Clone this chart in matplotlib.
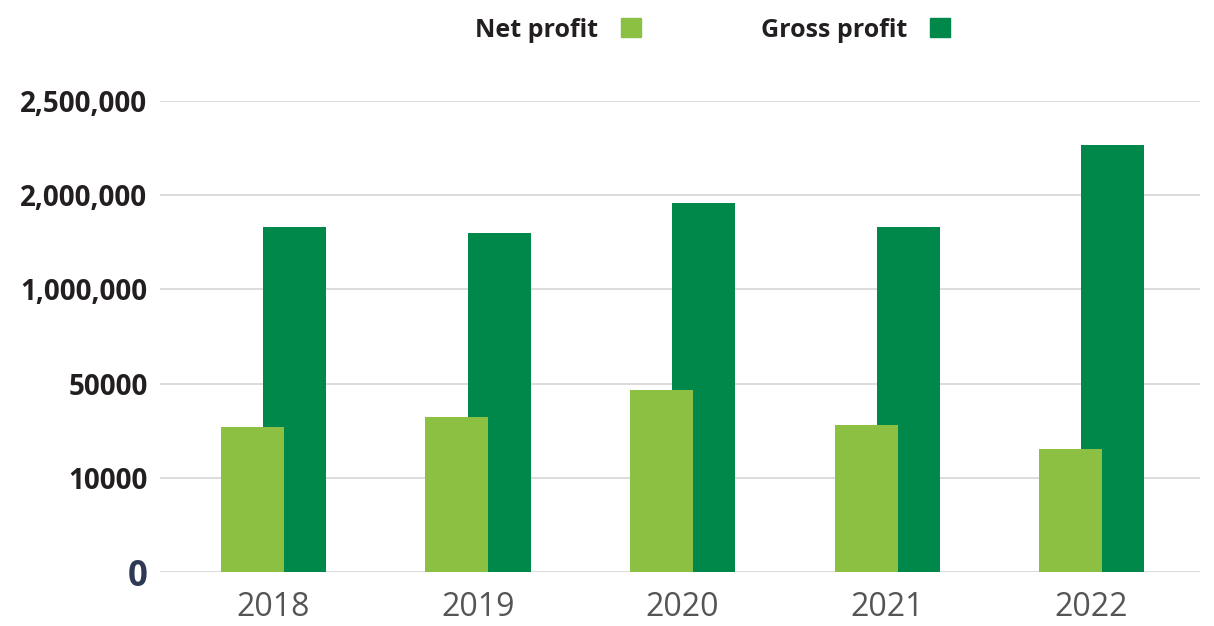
import numpy as np
import matplotlib.pyplot as plt
from matplotlib.patches import Patch

# data (in its own odd non-linear scale)
years = ['2018', '2019', '2020', '2021', '2022']
net_profit = [31600, 36000, 47200, 32400, 22400]
gross_profit = [1660000, 1600000, 1920000, 1660000, 2265000]

# the y axis has evenly spaced gridlines with uneven values
tick_vals = [0, 10000, 50000, 1000000, 2000000, 2500000]
tick_labels = ['0', '10000', '50000', '1,000,000', '2,000,000', '2,500,000']
tick_pos = np.arange(len(tick_vals))

light_green = '#8cc043'
dark_green = '#00884a'

plt.rcParams['font.family'] = ['Open Sans', 'DejaVu Sans']


def fwd(v):
    return np.interp(v, tick_vals, tick_pos)


def inv(p):
    return np.interp(p, tick_pos, tick_vals)


fig = plt.figure(figsize=(12.14, 6.26), dpi=100)
ax = fig.add_axes([160 / 1214, 54 / 626, 1040 / 1214, 471 / 626])
ax.set_yscale('function', functions=(fwd, inv))

x = np.arange(len(years))
w = 0.308
off = 0.103
ax.bar(x + off, gross_profit, width=w, color=dark_green, zorder=2)
ax.bar(x - off, net_profit, width=w, color=light_green, zorder=3)

ax.set_ylim(0, 2500000)
ax.set_xlim(-0.555, 4.53)
ax.set_yticks(tick_vals)
ax.set_yticklabels(tick_labels, fontsize=20, fontweight='bold', color='#231f20')
zero = ax.get_yticklabels()[0]
zero.set_color('#2e3a55')
zero.set_fontsize(25)
ax.set_xticks(x)
ax.set_xticklabels(years, fontsize=23, color='#555555')
ax.tick_params(axis='both', length=0)
ax.tick_params(axis='y', pad=9)
ax.tick_params(axis='x', pad=14)
ax.grid(axis='y', color='#d9d9d9', linewidth=1.3, zorder=0)
for s in ax.spines.values():
    s.set_visible(False)

handles = [Patch(color=light_green, label='Net profit'),
           Patch(color=dark_green, label='Gross profit')]
fig.legend(handles=handles, loc='center', bbox_to_anchor=(0.587, 0.952),
           ncol=2, frameon=False, markerfirst=False,
           prop={'size': 18, 'weight': 'bold'},
           handlelength=0.8, handleheight=0.8, handletextpad=0.9,
           columnspacing=4.8, labelcolor='#231f20')

fig.savefig('out.png', dpi=100)
